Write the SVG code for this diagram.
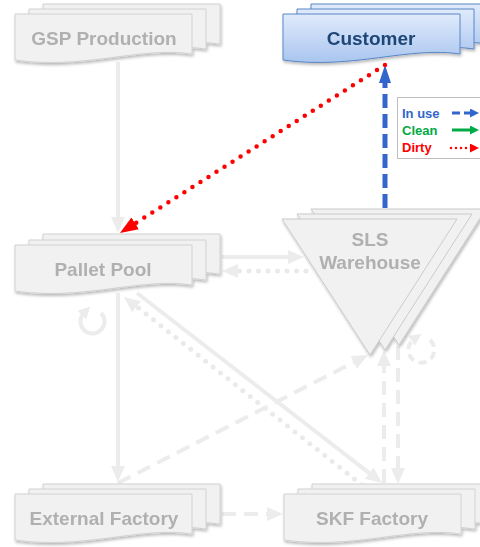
<svg xmlns="http://www.w3.org/2000/svg" xmlns:xlink="http://www.w3.org/1999/xlink" width="480" height="547" viewBox="0 0 480 547">
  <defs>
    <style>
      .doc { fill: #f1f1f1; stroke: #d2d2d2; stroke-width: 1; }
      .cust { fill: url(#custFill); stroke: #5a86c6; stroke-width: 1; }
      .tri { fill: #f1f1f1; stroke: #cacaca; stroke-width: 1; }
      .lbl { font-family: "Liberation Sans", Arial, sans-serif; font-weight: bold; font-size: 19px; fill: #b0b0b0; text-anchor: middle; }
      .lbl-c { fill: #1f4677; }
      .g-solid { fill: none; stroke: #ececec; stroke-width: 4; }
      .g-dash { fill: none; stroke: #ececec; stroke-width: 4; stroke-dasharray: 14 8; }
      .g-dot { fill: none; stroke: #eaeaea; stroke-width: 5; stroke-dasharray: 0 9.5; stroke-linecap: round; }
      .leg { font-family: "Liberation Sans", Arial, sans-serif; font-weight: bold; font-size: 13px; }
    </style>
    <linearGradient id="custFill" x1="0" y1="0" x2="0" y2="1">
      <stop offset="0" stop-color="#e0ebfc"/>
      <stop offset="1" stop-color="#a9c5ef"/>
    </linearGradient>
    <filter id="shadow" x="-10%" y="-20%" width="125%" height="150%">
      <feDropShadow dx="1" dy="2" stdDeviation="1.5" flood-color="#000" flood-opacity="0.28"/>
    </filter>
    <!-- document outline with wavy lower edge, 177 wide -->
    <path id="docShape" d="M0,0 H177 V40 C125,32 70,56 0,46 Z"/>
    <path id="triShape" d="M0,0 H175 L88,136 Z"/>
    <marker id="mGray" markerUnits="userSpaceOnUse" markerWidth="16" markerHeight="14" refX="4" refY="7" orient="auto">
      <path d="M0,0 L16,7 L0,14 Z" fill="#ececec"/>
    </marker>
    <marker id="mRed" markerUnits="userSpaceOnUse" markerWidth="18" markerHeight="14" refX="4" refY="7" orient="auto">
      <path d="M0,0 L18,7 L0,14 Z" fill="#ff0000"/>
    </marker>
    <marker id="mBlue" markerUnits="userSpaceOnUse" markerWidth="18" markerHeight="12" refX="4" refY="6" orient="auto">
      <path d="M0,0 L18,6 L0,12 Z" fill="#3366cc"/>
    </marker>
    <marker id="mBlueS" markerUnits="userSpaceOnUse" markerWidth="9" markerHeight="9" refX="2" refY="4.5" orient="auto">
      <path d="M0,0 L9,4.5 L0,9 Z" fill="#3366cc"/>
    </marker>
    <marker id="mGreenS" markerUnits="userSpaceOnUse" markerWidth="9" markerHeight="9" refX="2" refY="4.5" orient="auto">
      <path d="M0,0 L9,4.5 L0,9 Z" fill="#00aa44"/>
    </marker>
    <marker id="mRedS" markerUnits="userSpaceOnUse" markerWidth="9" markerHeight="9" refX="2" refY="4.5" orient="auto">
      <path d="M0,0 L9,4.5 L0,9 Z" fill="#ff0000"/>
    </marker>
    <marker id="mGraySm" markerUnits="userSpaceOnUse" markerWidth="12" markerHeight="12" refX="3" refY="6" orient="auto">
      <path d="M0,0 L12,6 L0,12 Z" fill="#ececec"/>
    </marker>
  </defs>

  <rect width="480" height="547" fill="#ffffff"/>

  <!-- connectors -->
  <g id="connectors">
    <!-- GSP Production to Pallet Pool -->
    <line class="g-solid" x1="118" y1="62" x2="118" y2="221" marker-end="url(#mGray)"/>
    <!-- Pallet Pool to SLS Warehouse -->
    <line class="g-solid" x1="222" y1="257" x2="292" y2="257" marker-end="url(#mGray)"/>
    <!-- SLS Warehouse back to Pallet Pool -->
    <line class="g-dot" x1="306" y1="271" x2="236" y2="271"/>
    <line class="g-solid" stroke-opacity="0" x1="240" y1="271" x2="234" y2="271" marker-end="url(#mGray)"/>
    <!-- Pallet Pool to External Factory -->
    <line class="g-solid" x1="118" y1="293" x2="118" y2="470" marker-end="url(#mGray)"/>
    <!-- SKF Factory back to Pallet Pool -->
    <line class="g-dot" x1="362" y1="485" x2="136" y2="306"/>
    <line class="g-solid" stroke-opacity="0" x1="138" y1="308" x2="133.4" y2="304.4" marker-end="url(#mGray)"/>
    <!-- Pallet Pool to SKF Factory -->
    <line class="g-solid" x1="137" y1="293" x2="372.5" y2="475.6" marker-end="url(#mGray)"/>
    <!-- External Factory to SLS Warehouse -->
    <line class="g-dash" x1="118" y1="483" x2="357.3" y2="360.5" marker-end="url(#mGray)"/>
    <!-- SKF Factory up to SLS Warehouse -->
    <line class="g-dash" x1="384" y1="483" x2="384" y2="362" marker-end="url(#mGray)"/>
    <!-- SLS Warehouse down to SKF Factory -->
    <line class="g-dash" x1="398" y1="346" x2="398" y2="472" marker-end="url(#mGray)"/>
    <!-- External Factory to SKF Factory -->
    <line class="g-dash" x1="222" y1="514" x2="271" y2="514" marker-end="url(#mGray)"/>
    <!-- reuse loops -->
    <path class="g-solid" d="M101,313 A12,12 0 1 1 84,313" marker-end="url(#mGraySm)"/>
    <path class="g-dash" style="stroke-dasharray:8 5" d="M430,340 A13,13 0 1 1 414,339" marker-end="url(#mGraySm)"/>
    <!-- SLS Warehouse to Customer (in use) -->
    <line x1="385" y1="208" x2="385" y2="79" stroke="#3366cc" stroke-width="5" stroke-dasharray="14 6" marker-end="url(#mBlue)"/>
    <!-- Customer to Pallet Pool (dirty) -->
    <line x1="385" y1="65" x2="131.8" y2="225.5" stroke="#ff0000" stroke-width="4.5" stroke-dasharray="0 9.5" stroke-linecap="round" marker-end="url(#mRed)"/>
  </g>

  <g id="gsp-production" filter="url(#shadow)">
    <use href="#docShape" class="doc" x="43" y="4"/>
    <use href="#docShape" class="doc" x="29" y="9"/>
    <use href="#docShape" class="doc" x="15" y="14"/>
    <text class="lbl" x="104" y="45">GSP Production</text>
  </g>

  <g id="customer" filter="url(#shadow)">
    <use href="#docShape" class="cust" x="311" y="4"/>
    <use href="#docShape" class="cust" x="297" y="9"/>
    <use href="#docShape" class="cust" x="283" y="14"/>
    <text class="lbl lbl-c" x="371" y="45">Customer</text>
  </g>

  <g id="pallet-pool" filter="url(#shadow)">
    <use href="#docShape" class="doc" x="43" y="234"/>
    <use href="#docShape" class="doc" x="29" y="240"/>
    <use href="#docShape" class="doc" x="15" y="245"/>
    <text class="lbl" x="103" y="276">Pallet Pool</text>
  </g>

  <g id="sls-warehouse" filter="url(#shadow)">
    <use href="#triShape" class="tri" x="311" y="209"/>
    <use href="#triShape" class="tri" x="297" y="214"/>
    <use href="#triShape" class="tri" x="282" y="219"/>
    <text class="lbl" x="370" y="246">SLS</text>
    <text class="lbl" x="370" y="269">Warehouse</text>
  </g>

  <g id="external-factory" filter="url(#shadow)">
    <use href="#docShape" class="doc" x="43" y="484"/>
    <use href="#docShape" class="doc" x="29" y="489"/>
    <use href="#docShape" class="doc" x="15" y="494"/>
    <text class="lbl" x="104" y="525">External Factory</text>
  </g>

  <g id="skf-factory" filter="url(#shadow)">
    <use href="#docShape" class="doc" x="312" y="484"/>
    <use href="#docShape" class="doc" x="298" y="489"/>
    <use href="#docShape" class="doc" x="284" y="494"/>
    <text class="lbl" x="372" y="525">SKF Factory</text>
  </g>

  <g id="legend">
    <rect x="397.5" y="97.5" width="90" height="61" fill="#ffffff" stroke="#bdbdbd" stroke-width="1"/>
    <text class="leg" x="402" y="118" fill="#3366cc">In use</text>
    <text class="leg" x="402" y="135" fill="#00aa44">Clean</text>
    <text class="leg" x="402" y="152" fill="#ff0000">Dirty</text>
    <line x1="452" y1="113" x2="472" y2="113" stroke="#3366cc" stroke-width="3" stroke-dasharray="8 4" marker-end="url(#mBlueS)"/>
    <line x1="452" y1="130" x2="472" y2="130" stroke="#00aa44" stroke-width="3" marker-end="url(#mGreenS)"/>
    <line x1="451" y1="148" x2="472" y2="148" stroke="#ff0000" stroke-width="2.5" stroke-dasharray="0 5" stroke-linecap="round" marker-end="url(#mRedS)"/>
  </g>
</svg>
